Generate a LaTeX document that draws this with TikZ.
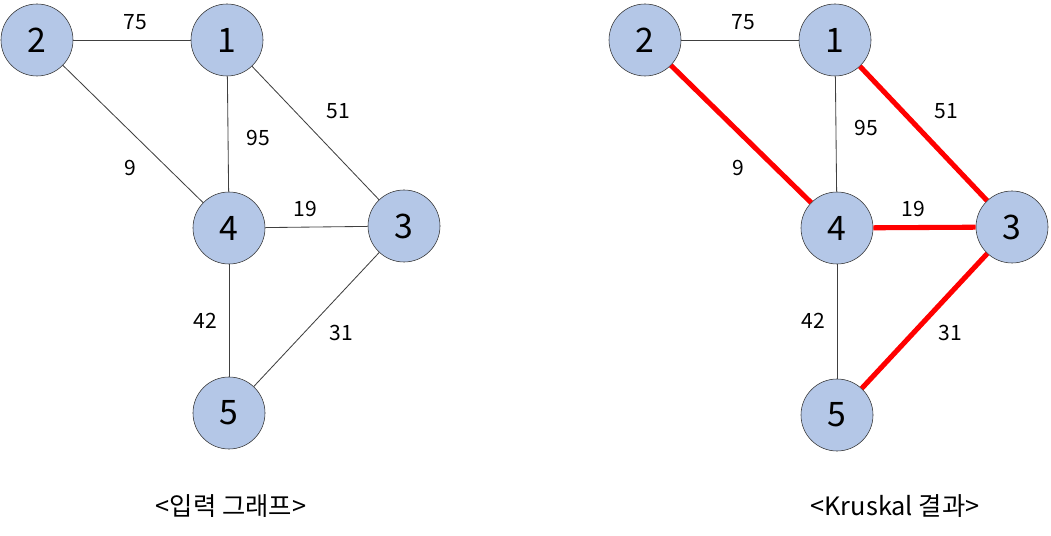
\documentclass[tikz,border=0pt]{standalone}
\usepackage{fontspec}
\setmainfont{Noto Sans CJK KR}
\definecolor{nodeblue}{HTML}{B4C7E7}
\tikzset{
  vert/.style={circle,draw=black!80,fill=nodeblue,minimum size=1.8cm,inner sep=0pt,font=\fontsize{24}{24}\selectfont},
  wlab/.style={font=\fontsize{15}{15}\selectfont},
  caption/.style={font=\fontsize{18}{18}\selectfont},
  mst/.style={red,line width=3.6pt},
}
\begin{document}
\begin{tikzpicture}[x=0.025cm,y=-0.025cm,line join=round]
\useasboundingbox (0,0) rectangle (1051,536);
% input graph
\node[vert] (a2) at (37,40) {2};
\node[vert] (a1) at (227,40) {1};
\node[vert] (a4) at (229,228) {4};
\node[vert] (a3) at (404,226) {3};
\node[vert] (a5) at (229,413) {5};
%
\foreach \p/\q/\w/\x/\y in {a2/a1/75/135/22,a2/a4/9/130/168,a1/a4/95/258/138,a1/a3/51/338/111,a4/a3/19/305/209,a4/a5/42/205/321,a3/a5/31/341/333}
{\draw[line width=0.6pt,black!75] (\p)--(\q);
 \node[wlab] at (\x,\y) {\w};}
\node[caption] (capa) at (231,506) {<입력 그래프>};
% kruskal result
\node[vert] (b2) at (645,40) {2};
\node[vert] (b1) at (835,40) {1};
\node[vert] (b4) at (837,228) {4};
\node[vert] (b3) at (1012,227) {3};
\node[vert] (b5) at (837,415) {5};
%
\foreach \p/\q/\w/\x/\y in {b2/b1/75/743/22,b1/b4/95/866/128,b4/b5/42/813/321}
{\draw[line width=0.6pt,black!75] (\p)--(\q);
 \node[wlab] at (\x,\y) {\w};}
\foreach \p/\q/\w/\x/\y in {b2/b4/9/738/168,b1/b3/51/946/111,b4/b3/19/913/209,b3/b5/31/950/333}
{\draw[mst] (\p)--(\q);
 \node[wlab] at (\x,\y) {\w};}
\node[caption] (capb) at (895,506) {<Kruskal 결과>};
\end{tikzpicture}
\end{document}
